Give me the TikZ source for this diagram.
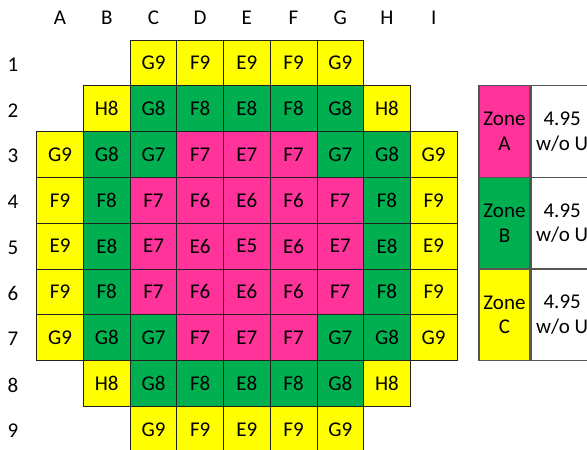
\documentclass[tikz,border=0pt]{standalone}
\usepackage{fontspec}
\setmainfont{Carlito}
\definecolor{zonea}{HTML}{FF3399}
\definecolor{zoneb}{HTML}{00B050}
\definecolor{zonec}{HTML}{FFFF00}
\definecolor{gridline}{HTML}{222222}
\definecolor{legline}{HTML}{555555}
\tikzset{
  cell/.style={draw=gridline, line width=0.8pt, minimum width=46.7pt, minimum height=45.8pt, inner sep=0pt, anchor=center},
  lbl/.style={inner sep=0pt, anchor=center},
  legkey/.style={draw=legline, line width=1.2pt, minimum width=51pt, minimum height=91.6pt, inner sep=0pt, align=center},
  legval/.style={legkey, fill=white, minimum width=62pt}
}
\begin{document}
\begin{tikzpicture}[x=1pt, y=-1pt, font=\fontsize{21}{24.5}\selectfont]
\clip (0,0) rectangle (587,450);
\fill[white] (0,0) rectangle (587,450);
% column and row labels
\foreach \c/\l in {1/A,2/B,3/C,4/D,5/E,6/F,7/G,8/H,9/I}
  \node[lbl] (col\l) at ({36.7+(\c-0.5)*46.7},18) {\l};
\foreach \r in {1,...,9}
  \node[lbl] (row\r) at (13,{40+(\r-0.5)*45.8+1.5}) {\r};
% core map
\foreach \r/\cells in {
  1/{3/G9/zonec,4/F9/zonec,5/E9/zonec,6/F9/zonec,7/G9/zonec},
  2/{2/H8/zonec,3/G8/zoneb,4/F8/zoneb,5/E8/zoneb,6/F8/zoneb,7/G8/zoneb,8/H8/zonec},
  3/{1/G9/zonec,2/G8/zoneb,3/G7/zoneb,4/F7/zonea,5/E7/zonea,6/F7/zonea,7/G7/zoneb,8/G8/zoneb,9/G9/zonec},
  4/{1/F9/zonec,2/F8/zoneb,3/F7/zonea,4/F6/zonea,5/E6/zonea,6/F6/zonea,7/F7/zonea,8/F8/zoneb,9/F9/zonec},
  5/{1/E9/zonec,2/E8/zoneb,3/E7/zonea,4/E6/zonea,5/E5/zonea,6/E6/zonea,7/E7/zonea,8/E8/zoneb,9/E9/zonec},
  6/{1/F9/zonec,2/F8/zoneb,3/F7/zonea,4/F6/zonea,5/E6/zonea,6/F6/zonea,7/F7/zonea,8/F8/zoneb,9/F9/zonec},
  7/{1/G9/zonec,2/G8/zoneb,3/G7/zoneb,4/F7/zonea,5/E7/zonea,6/F7/zonea,7/G7/zoneb,8/G8/zoneb,9/G9/zonec},
  8/{2/H8/zonec,3/G8/zoneb,4/F8/zoneb,5/E8/zoneb,6/F8/zoneb,7/G8/zoneb,8/H8/zonec},
  9/{3/G9/zonec,4/F9/zonec,5/E9/zonec,6/F9/zonec,7/G9/zonec}} {
  \foreach \c/\t/\z in \cells
    \node[cell, fill=\z] (c\r-\c) at ({36.7+(\c-0.5)*46.7},{40+(\r-0.5)*45.8}) {\t};
}
% legend
\foreach \i/\z/\l in {0/zonea/A,1/zoneb/B,2/zonec/C} {
  \node[legkey, fill=\z] (key\l) at (504.5,{85.7+(\i+0.5)*91.6}) {Zone\\\l};
  \node[legval, anchor=west] (val\l) at (key\l.east) {4.95\\w/o U};
}
\end{tikzpicture}
\end{document}
